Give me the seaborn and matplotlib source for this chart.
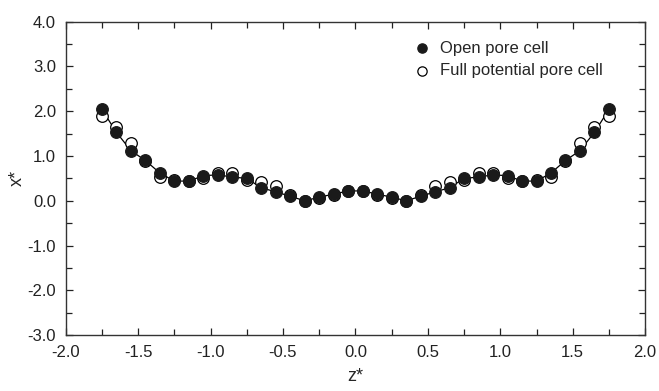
import matplotlib
matplotlib.use("Agg")
import matplotlib.pyplot as plt
import numpy as np
import pandas as pd
import seaborn as sns
from matplotlib.ticker import MultipleLocator

# z* positions (left half, mirrored for right half)
z_left = [-1.75, -1.65, -1.55, -1.45, -1.35, -1.25, -1.15, -1.05, -0.95,
          -0.85, -0.75, -0.65, -0.55, -0.45, -0.35, -0.25, -0.15, -0.05]
open_left = [2.04, 1.53, 1.12, 0.90, 0.62, 0.44, 0.44, 0.56, 0.58,
             0.53, 0.50, 0.29, 0.20, 0.10, 0.00, 0.08, 0.15, 0.22]
full_left = [1.89, 1.65, 1.29, 0.88, 0.54, 0.46, 0.45, 0.51, 0.62,
             0.61, 0.46, 0.43, 0.34, 0.14, 0.00, 0.06, 0.13, 0.21]

z = z_left + [-v for v in z_left[::-1]]
open_cell = open_left + open_left[::-1]
full_cell = full_left + full_left[::-1]

df = pd.DataFrame({"z": z, "open": open_cell, "full": full_cell})

sns.set_style("ticks")
plt.rcParams["font.family"] = ["Liberation Sans", "DejaVu Sans"]

fig = plt.figure(figsize=(6.59, 3.91), dpi=100)
ax = fig.add_axes([0.0997, 0.143, 0.979 - 0.0997, 0.9445 - 0.143])

sns.lineplot(data=df, x="z", y="open", color="black", lw=0.9, ax=ax,
             legend=False, zorder=1)
sns.scatterplot(data=df, x="z", y="full", marker="o", s=70, color="white",
                edgecolor="black", linewidth=0.9, ax=ax, zorder=2,
                label="Full potential pore cell")
sns.scatterplot(data=df, x="z", y="open", marker="o", s=70, color="#1a1a1a",
                edgecolor="#1a1a1a", linewidth=0.9, ax=ax, zorder=3,
                label="Open pore cell")

ax.set_xlim(-2.0, 2.0)
ax.set_ylim(-3.0, 4.0)
ax.xaxis.set_major_locator(MultipleLocator(0.5))
ax.xaxis.set_minor_locator(MultipleLocator(0.25))
ax.yaxis.set_major_locator(MultipleLocator(1.0))
ax.yaxis.set_minor_locator(MultipleLocator(0.5))
ax.xaxis.set_major_formatter(lambda v, p: f"{v:.1f}")
ax.yaxis.set_major_formatter(lambda v, p: f"{v:.1f}")

ax.tick_params(which="both", direction="in", top=True, right=True,
               labelsize=12, colors="#222222", width=0.9)
ax.tick_params(which="major", length=5, pad=7)
ax.tick_params(which="minor", length=4)
for s in ax.spines.values():
    s.set_visible(True)
    s.set_linewidth(1.0)
    s.set_color("#333333")

ax.set_xlabel("z*", fontsize=13, labelpad=6)
ax.set_ylabel("x*", fontsize=13, labelpad=1)

h, l = ax.get_legend_handles_labels()
ax.legend(h[::-1], l[::-1], loc="upper left", bbox_to_anchor=(0.6, 0.94),
          frameon=False, fontsize=12, handletextpad=0.6, labelspacing=0.45,
          handlelength=1.0, borderpad=0, borderaxespad=0, markerscale=0.8)

fig.savefig("out.png", dpi=100)
